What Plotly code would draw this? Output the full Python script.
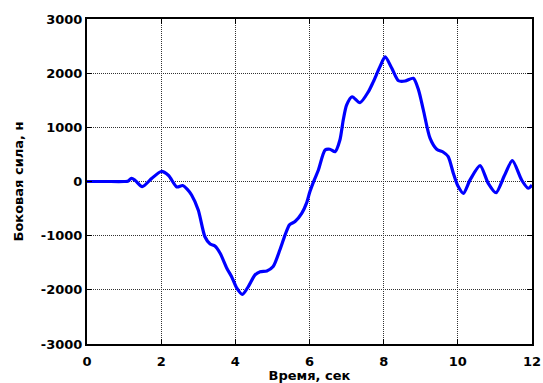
import plotly.graph_objects as go

# Lateral force vs time
time_s = [0, 0.5, 1.0, 1.1, 1.2, 1.3, 1.49, 1.75, 2.0, 2.2, 2.42, 2.58, 2.7, 2.82,
          3.0, 3.18, 3.32, 3.45, 3.59, 3.77, 3.9, 4.04, 4.19, 4.35, 4.53, 4.67,
          4.85, 5.02, 5.2, 5.34, 5.46, 5.61, 5.79, 5.92, 6.01, 6.13, 6.24, 6.42,
          6.55, 6.69, 6.82, 6.91, 7.0, 7.15, 7.36, 7.59, 7.72, 7.9, 8.04, 8.22,
          8.4, 8.58, 8.8, 8.94, 9.07, 9.25, 9.43, 9.61, 9.74, 9.88, 10.0, 10.15,
          10.33, 10.6, 10.82, 11.03, 11.25, 11.47, 11.72, 11.9, 12.0]
force_n = [0, 0, 0, 5, 60, 20, -95, 60, 185, 110, -100, -75, -140, -250,
           -525, -1020, -1155, -1190, -1325, -1600, -1757, -1970, -2085, -1940, -1725, -1665,
           -1650, -1570, -1265, -990, -800, -740, -590, -400, -190, 30, 212, 580,
           595, 550, 765, 1135, 1410, 1565, 1455, 1660, 1840, 2120, 2300, 2090,
           1860, 1855, 1905, 1690, 1320, 800, 595, 540, 460, 150, -80, -218,
           30, 292, -33, -207, 100, 384, 28, -125, -65]

x_ticks = [0, 2, 4, 6, 8, 10, 12]
y_ticks = [-3000, -2000, -1000, 0, 1000, 2000, 3000]

fig = go.Figure(go.Scatter(
    x=time_s, y=force_n, mode="lines",
    line=dict(color="rgb(0,0,255)", width=3.2, shape="spline", smoothing=0.7),
))

family = "DejaVu Sans, sans-serif"
axis_common = dict(
    showline=True, linecolor="black", linewidth=2, mirror="ticks",
    ticks="inside", ticklen=5, tickcolor="black", tickwidth=1,
    showgrid=True, gridcolor="rgb(50,50,50)", griddash="1px,1px", gridwidth=1,
    zeroline=False, automargin=False,
    tickfont=dict(family=family, size=13, color="black"),
)

fig.update_layout(
    width=543, height=383,
    margin=dict(l=87, r=11, t=19, b=39),
    plot_bgcolor="white", paper_bgcolor="white",
    font=dict(family=family, size=13, color="black"), showlegend=False,
    xaxis=dict(range=[0, 12], tickvals=x_ticks, ticktext=[f"<b>{v}</b>" for v in x_ticks],
               ticklabelstandoff=4,
               title=dict(text="<b>Время, сек</b>", standoff=2, font=dict(size=13)),
               **axis_common),
    yaxis=dict(range=[-3000, 3000], tickvals=y_ticks, ticktext=[f"<b>{v}</b>" for v in y_ticks],
               title=dict(text="<b>Боковая сила, н</b>", standoff=14, font=dict(size=13)),
               **axis_common),
)

fig.write_html("out.html")
